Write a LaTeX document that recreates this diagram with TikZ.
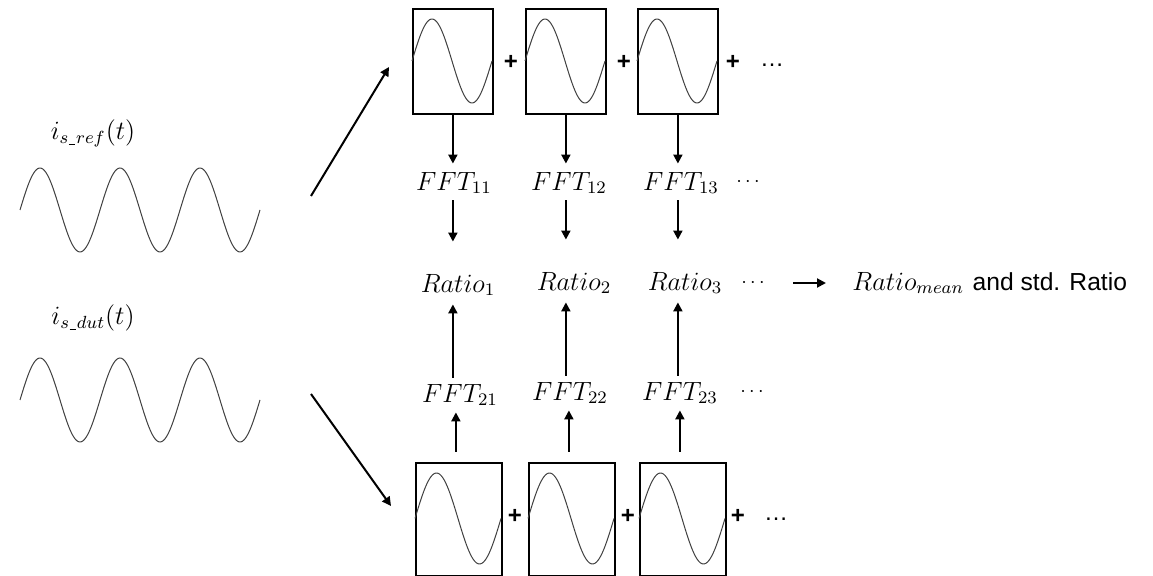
\documentclass[tikz,border=0pt]{standalone}
\usepackage{fontspec}
\newfontfamily\arialfont{Liberation Sans}
\usetikzlibrary{arrows.meta}
\newcommand{\usc}{\kern0.3pt\rule[-0.6pt]{3pt}{0.4pt}\kern0.3pt}
\begin{document}
\begin{tikzpicture}[x=0.5pt,y=-0.5pt,
  wave/.style={line width=0.5pt, draw=black!75},
  sbox/.style={draw, line width=0.9pt, minimum width=40pt, minimum height=52.5pt, inner sep=0pt, anchor=north west},
  sboxb/.style={draw, line width=0.9pt, minimum width=43pt, minimum height=56.5pt, inner sep=0pt, anchor=north west},
  arr/.style={line width=1pt, -{Triangle[length=4.5pt,width=4.5pt]}},
  mlab/.style={inner sep=0pt, scale=1.1, font=\fontsize{12}{14}\selectfont},
  plus/.style={inner sep=0pt, font=\arialfont\bfseries\fontsize{12}{14}\selectfont},
  dots/.style={inner sep=0pt, font=\fontsize{10}{12}\selectfont},
  ldots/.style={inner sep=0pt, font=\arialfont\fontsize{12}{14}\selectfont}
]
\useasboundingbox (0,0) rectangle (1153,576);

% left signals
\node[mlab] (lref) at (93,133) {$i_{s\usc ref}(t)$};
\node[mlab] (ldut) at (93,318) {$i_{s\usc dut}(t)$};
\draw[wave] plot[domain=0:240, samples=150, smooth] ({20+\x},{210-42*sin(\x*4.5)});
\draw[wave] plot[domain=0:240, samples=150, smooth] ({20+\x},{400-42*sin(\x*4.5)});
\coordinate (s1) at (311,196);
\coordinate (s2) at (311,394);
\coordinate (e1) at (389,67);
\coordinate (e2) at (391,506);
\draw[arr] (s1) -- (e1);
\draw[arr] (s2) -- (e2);

% top boxes
\foreach \i/\bx in {1/412,2/525,3/637}{
  \node[sbox] (t\i) at (\bx,8) {};
  \draw[wave] plot[domain=0:80, samples=60, smooth] ({\bx+\x},{61-42*sin(\x*4.5)});
}
\node[plus] (tp1) at (511,62) {+};
\node[plus] (tp2) at (624,62) {+};
\node[plus] (tp3) at (733,62) {+};
\node[ldots] (td) at (772,65) {\ldots};

% bottom boxes
\foreach \i/\bx in {1/415,2/528,3/639}{
  \node[sboxb] (b\i) at (\bx,462) {};
  \draw[wave] plot[domain=0:86, samples=60, smooth] ({\bx+\x},{518.5-45.5*sin(\x*4.186)});
}
\node[plus] (bp1) at (515,516) {+};
\node[plus] (bp2) at (628,516) {+};
\node[plus] (bp3) at (738,516) {+};
\node[ldots] (bd) at (776,519) {\ldots};

% FFT row 1
\node[mlab] (f11) at (454,183) {$FFT_{11}$};
\node[mlab] (f12) at (569,183) {$FFT_{12}$};
\node[mlab] (f13) at (681,183) {$FFT_{13}$};
\node[dots] (fd1) at (748,182) {$\cdots$};

% Ratio row
\node[mlab] (r1) at (458,285) {$Ratio_{1}$};
\node[mlab] (r2) at (574,283) {$Ratio_{2}$};
\node[mlab] (r3) at (685,283) {$Ratio_{3}$};
\node[dots] (rd) at (753,283) {$\cdots$};

% FFT row 2
\node[mlab] (f21) at (460,395) {$FFT_{21}$};
\node[mlab] (f22) at (570,393) {$FFT_{22}$};
\node[mlab] (f23) at (680,393) {$FFT_{23}$};
\node[dots] (fd2) at (752,392) {$\cdots$};

% result
\node[inner sep=0pt, anchor=west, scale=1.1] (res) at (852,283) {\fontsize{12}{14}\selectfont $Ratio_{mean}$ {\arialfont\fontsize{11.2}{13}\selectfont and std. Ratio}};

% vertical arrows
\foreach \i in {1,2,3}{
  \draw[arr, shorten >=4pt] (t\i.south) -- (t\i.south |- f1\i.north);
  \draw[arr, shorten <=3pt, shorten >=16pt] (t\i.south |- f1\i.south) -- (t\i.south |- r\i.north);
  \draw[arr, shorten <=3pt, shorten >=4pt] (t\i.south |- f2\i.north) -- (t\i.south |- r\i.south);
  \draw[arr, shorten <=5pt, shorten >=3pt] ([xshift=-1.5pt]b\i.north) -- ([xshift=-1.5pt]b\i.north |- f2\i.south);
}
\draw[arr, shorten <=14pt, shorten >=13pt] (rd.east) -- (res.west);
\end{tikzpicture}
\end{document}
